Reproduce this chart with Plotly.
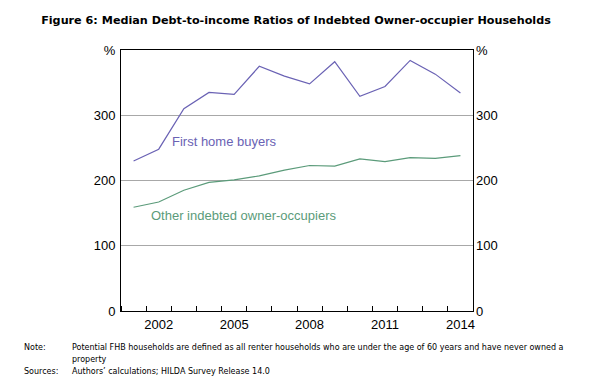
import plotly.graph_objects as go

years = list(range(2001, 2015))
first_home_buyers = [230, 248, 310, 335, 332, 375, 360, 348, 382, 329, 344, 384, 363, 334]
other_owner_occupiers = [159, 167, 185, 197, 201, 207, 216, 223, 222, 233, 229, 235, 234, 238]
x_tick_vals = [2002, 2005, 2008, 2011, 2014]
x_tick_text = ["2002", "2005", "2008", "2011", "2014"]
y_tick_vals = [0, 100, 200, 300, 400]
y_tick_text = ["0", "100", "200", "300", "%"]

fhb_color = "#6a62b4"
oth_color = "#5b9b7a"

# page body has an 8px margin: figure is offset by 8px in the window
OFF = 8
W, H = 592 - 2 * OFF, 385 - 2 * OFF
L, T = 121 - OFF, 50 - OFF
PW, PH = 352, 261
R, B = W - L - PW, H - T - PH


def px(x):
    return (x - OFF - L) / PW


def py(y):
    return (T + PH - (y - OFF)) / PH


fig = go.Figure()
fig.add_trace(go.Scatter(x=years, y=first_home_buyers, mode="lines",
                         line=dict(color=fhb_color, width=1.2), showlegend=False, hoverinfo="skip"))
fig.add_trace(go.Scatter(x=years, y=other_owner_occupiers, mode="lines",
                         line=dict(color=oth_color, width=1.2), showlegend=False, hoverinfo="skip"))
fig.add_trace(go.Scatter(x=years, y=other_owner_occupiers, mode="lines", yaxis="y2",
                         line=dict(width=0), opacity=0, showlegend=False, hoverinfo="skip"))

tickfont = dict(family="Liberation Sans", size=13, color="black")
foot = dict(family="DejaVu Sans", size=8, color="black")

fig.update_layout(
    width=W, height=H,
    margin=dict(l=L, r=R, t=T, b=B, autoexpand=False),
    paper_bgcolor="white", plot_bgcolor="white",
    title=dict(text="<b>Figure 6: Median Debt-to-income Ratios of Indebted Owner-occupier Households</b>",
               x=(296 - OFF) / W, xanchor="center", xref="container",
               y=1 - (20 - OFF) / H, yref="container", yanchor="middle",
               font=dict(family="DejaVu Sans", size=11.2, color="black")),
    xaxis=dict(range=[2000.5, 2014.5], tickvals=x_tick_vals, ticktext=x_tick_text,
               ticks="", showgrid=False, zeroline=False,
               showline=True, linecolor="black", linewidth=1, mirror=True,
               tickfont=tickfont, ticklabelstandoff=1, automargin=False,
               minor=dict(ticks="inside", tick0=2001.5, dtick=1, ticklen=5,
                          tickcolor="black", showgrid=False)),
    yaxis=dict(range=[0, 400], tickvals=y_tick_vals, ticktext=y_tick_text,
               ticks="", showgrid=True, gridcolor="#a8a8a8", gridwidth=1,
               zeroline=False, showline=True, linecolor="black", linewidth=1, mirror=True,
               tickfont=tickfont, ticklabelstandoff=2, automargin=False),
    yaxis2=dict(range=[0, 400], tickvals=y_tick_vals, ticktext=y_tick_text,
                overlaying="y", side="right", ticks="", showgrid=False, zeroline=False,
                showline=False, tickfont=tickfont, ticklabelstandoff=2, automargin=False),
    annotations=[
        dict(x=2002.45, y=260, xref="x", yref="y", text="First home buyers", showarrow=False,
             xanchor="left", yanchor="middle", font=dict(family="Liberation Sans", size=13, color=fhb_color)),
        dict(x=2001.62, y=146, xref="x", yref="y", text="Other indebted owner-occupiers", showarrow=False,
             xanchor="left", yanchor="middle", font=dict(family="Liberation Sans", size=13, color=oth_color)),
        dict(x=px(22), y=py(347), xref="paper", yref="paper", text="Note:", showarrow=False,
             xanchor="left", yanchor="middle", font=foot),
        dict(x=px(70), y=py(347), xref="paper", yref="paper",
             text="Potential FHB households are defined as all renter households who are under the age of 60 years and have never owned a",
             showarrow=False, xanchor="left", yanchor="middle", font=foot),
        dict(x=px(70), y=py(359), xref="paper", yref="paper", text="property", showarrow=False,
             xanchor="left", yanchor="middle", font=foot),
        dict(x=px(22), y=py(371), xref="paper", yref="paper", text="Sources:", showarrow=False,
             xanchor="left", yanchor="middle", font=foot),
        dict(x=px(70), y=py(371), xref="paper", yref="paper", text="Authors’ calculations; HILDA Survey Release 14.0",
             showarrow=False, xanchor="left", yanchor="middle", font=foot),
    ],
)

fig.write_html("out.html")
